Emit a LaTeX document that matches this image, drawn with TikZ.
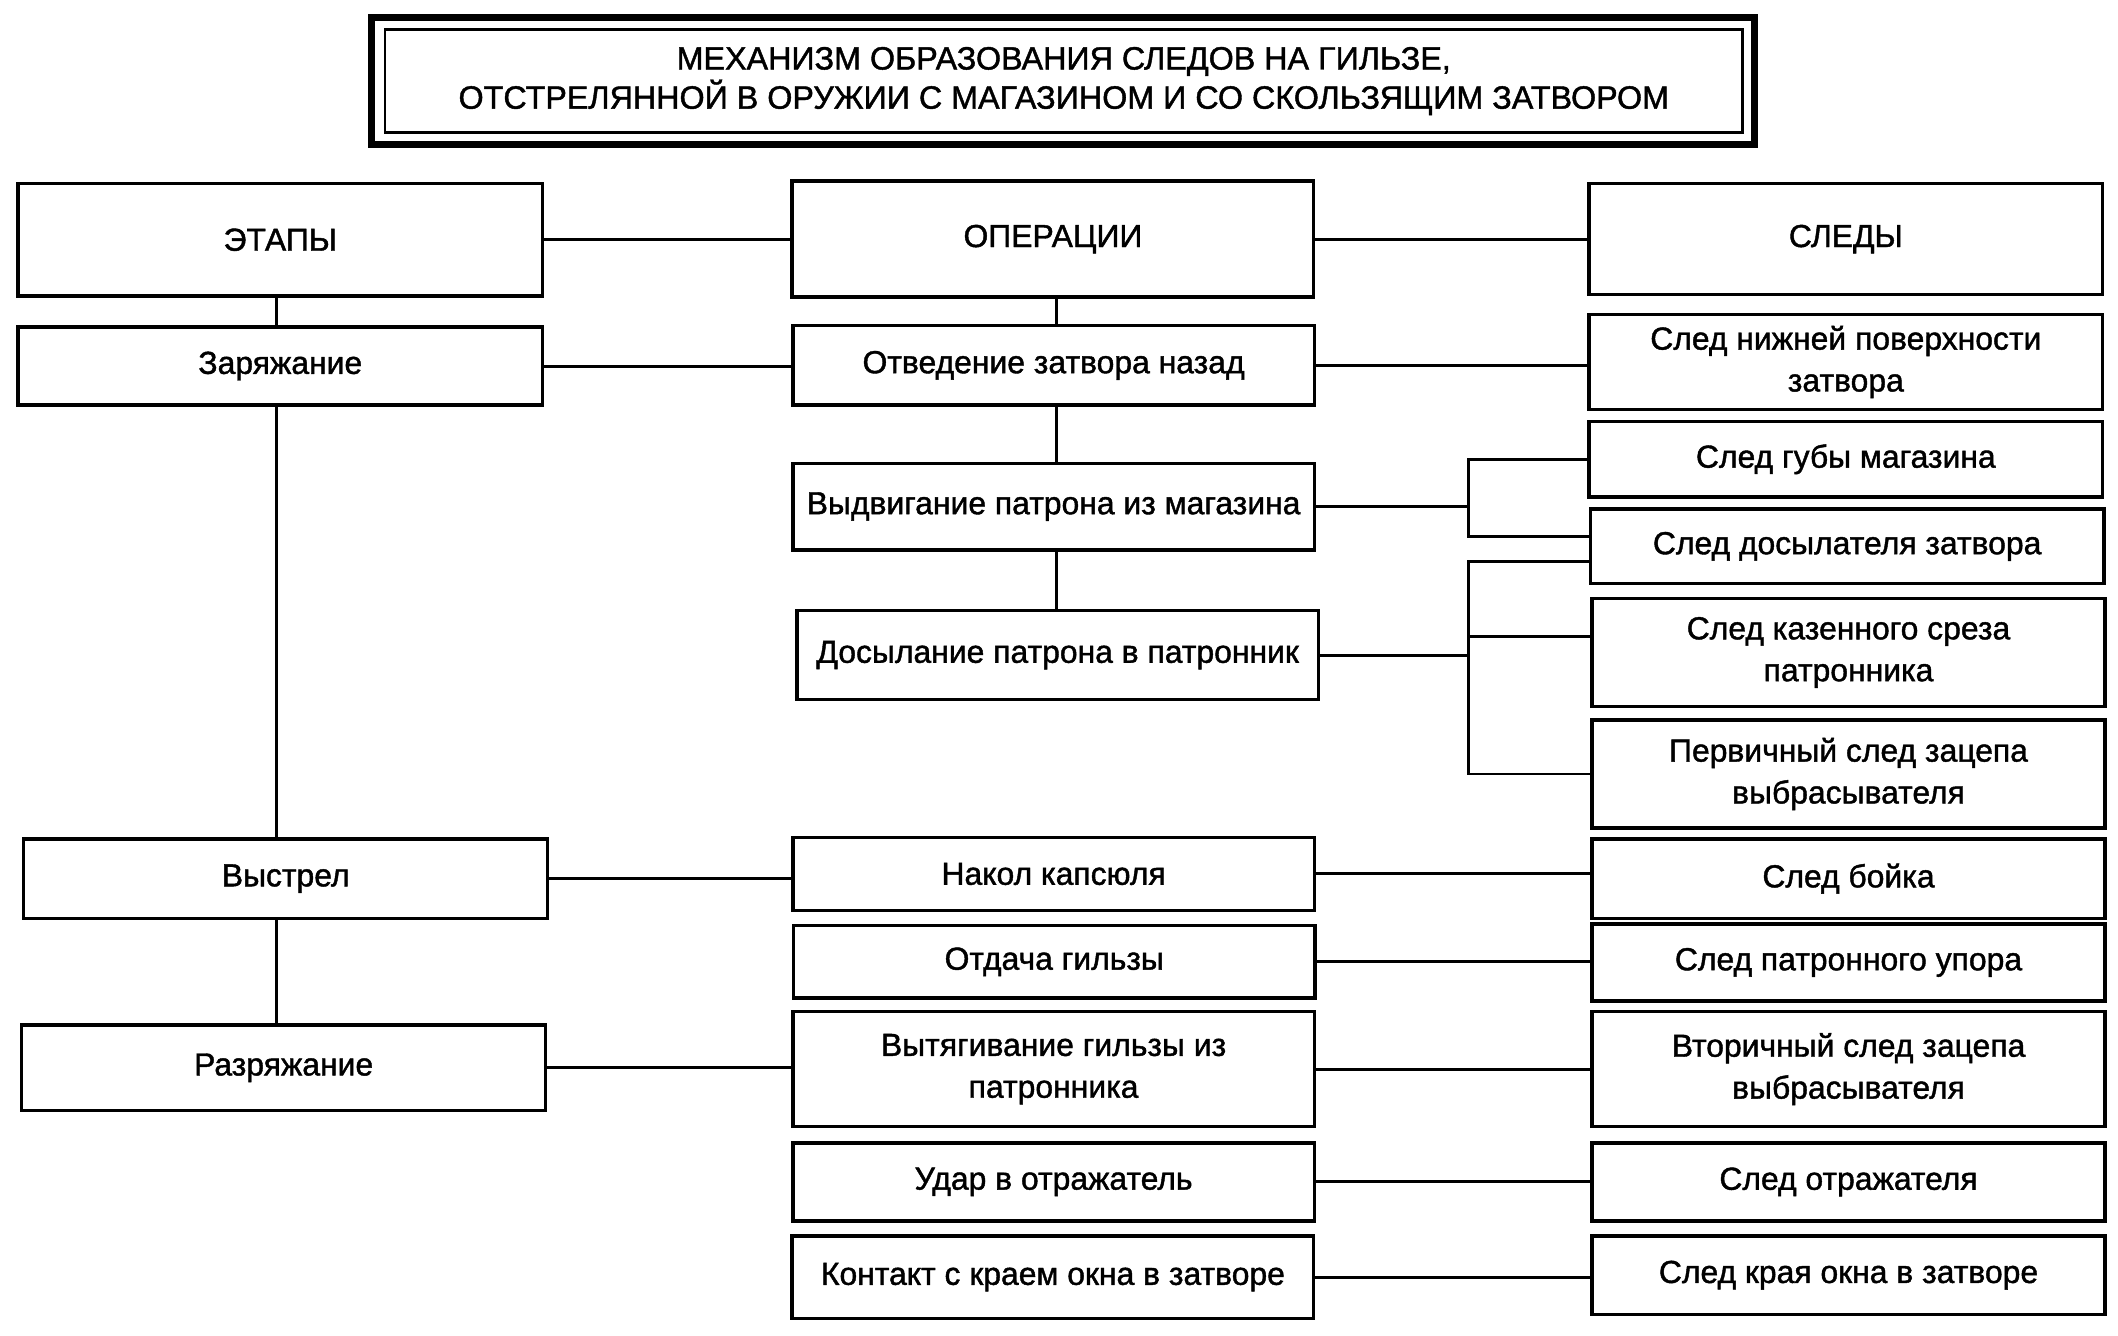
\documentclass[tikz,border=0pt]{standalone}
\usepackage{fontspec}
\setmainfont{Liberation Sans}[FakeBold=1.3]
\usetikzlibrary{calc}
\begin{document}
\begin{tikzpicture}[x=0.5pt,y=0.5pt,yscale=-1,
    box/.style={draw,line width=1.3pt,inner sep=0pt,align=center,font=\fontsize{11.8}{15.5}\selectfont},
    stagebox/.style={box,minimum width=194pt},
    opbox/.style={box,minimum width=193pt},
    tracebox/.style={box,minimum width=190pt},
    link/.style={line width=1.1pt}]
  \useasboundingbox (0,0) rectangle (1568,989);
  \node[draw,line width=0.9pt,minimum width=502.5pt,minimum height=38pt,align=center,
        font=\fontsize{11.95}{14.5}\selectfont] (title) at (787.5,60)
        {МЕХАНИЗМ ОБРАЗОВАНИЯ СЛЕДОВ НА ГИЛЬЗЕ,\\ОТСТРЕЛЯННОЙ В ОРУЖИИ С МАГАЗИНОМ И СО СКОЛЬЗЯЩИМ ЗАТВОРОМ};
  \draw[line width=2.8pt] ($(title.north west)+(-9,-8)$) rectangle ($(title.south east)+(8,8)$);

  \node[stagebox,minimum height=41.5pt] (etapy) at (207.5,177.5) {ЭТАПЫ};
  \node[stagebox,minimum height=29pt] (zar) at (207.5,271) {Заряжание};
  \node[stagebox,minimum height=29.5pt] (vystr) at (211.5,650.5) {Выстрел};
  \node[stagebox,minimum height=31.5pt] (razr) at (210,790.5) {Разряжание};

  \node[opbox,minimum height=43pt] (oper) at (779.5,177) {ОПЕРАЦИИ};
  \node[opbox,minimum height=29.5pt] (otv) at (780,270.5) {Отведение затвора назад};
  \node[opbox,minimum height=32pt] (vydv) at (780,375) {Выдвигание патрона из магазина};
  \node[opbox,minimum height=33pt] (dosyl) at (783,485) {Досылание патрона в патронник};
  \node[opbox,minimum height=27pt] (nakol) at (780,647) {Накол капсюля};
  \node[opbox,minimum height=27pt] (otd) at (780.5,712) {Отдача гильзы};
  \node[opbox,minimum height=42.5pt] (vyt) at (780,791.5) {Вытягивание гильзы из\\патронника};
  \node[opbox,minimum height=29pt] (udar) at (780,875) {Удар в отражатель};
  \node[opbox,minimum height=30.5pt] (kont) at (779.5,945.5) {Контакт с краем окна в затворе};

  \node[tracebox,minimum height=41pt] (sledy) at (1366.5,177) {СЛЕДЫ};
  \node[tracebox,minimum height=35pt] (nizh) at (1366.5,268) {След нижней поверхности\\затвора};
  \node[tracebox,minimum height=28pt] (gub) at (1366.5,340) {След губы магазина};
  \node[tracebox,minimum height=27.5pt] (dos) at (1367.5,404.5) {След досылателя затвора};
  \node[tracebox,minimum height=40pt] (kaz) at (1368.5,483) {След казенного среза\\патронника};
  \node[tracebox,minimum height=40pt] (perv) at (1368.5,573) {Первичный след зацепа\\выбрасывателя};
  \node[tracebox,minimum height=29.5pt] (boyk) at (1368.5,650.5) {След бойка};
  \node[tracebox,minimum height=28.5pt] (upor) at (1368.5,712.5) {След патронного упора};
  \node[tracebox,minimum height=42.5pt] (vtor) at (1368.5,791.5) {Вторичный след зацепа\\выбрасывателя};
  \node[tracebox,minimum height=29pt] (otr) at (1368.5,875) {След отражателя};
  \node[tracebox,minimum height=29pt] (okno) at (1368.5,944) {След края окна в затворе};

  \draw[link] (oper.west -| etapy.east) -- (oper.west);
  \draw[link] (oper.east) -- (oper.east -| sledy.west);
  \draw[link] (zar.east) -- (zar.east -| otv.west);
  \draw[link] (otv.east) -- (otv.east -| nizh.west);
  \draw[link] (vystr.east) -- (vystr.east -| nakol.west);
  \draw[link] (nakol.east) -- (nakol.east -| boyk.west);
  \draw[link] (otd.east) -- (otd.east -| upor.west);
  \draw[link] (razr.east) -- (razr.east -| vyt.west);
  \draw[link] (vyt.east) -- (vyt.east -| vtor.west);
  \draw[link] (udar.east) -- (udar.east -| otr.west);
  \draw[link] (kont.east) -- (kont.east -| okno.west);

  \coordinate (c1) at (205,0);
  \coordinate (c2) at (782,0);
  \draw[link] (etapy.south -| c1) -- (zar.north -| c1);
  \draw[link] (zar.south -| c1) -- (vystr.north -| c1);
  \draw[link] (vystr.south -| c1) -- (razr.north -| c1);
  \draw[link] (oper.south -| c2) -- (otv.north -| c2);
  \draw[link] (otv.south -| c2) -- (vydv.north -| c2);
  \draw[link] (vydv.south -| c2) -- (dosyl.north -| c2);

  \coordinate (br) at (1087,0);
  \coordinate (dosA) at ($(dos.west)+(0,-7.5)$);
  \coordinate (dosB) at ($(dos.west)+(0,11.5)$);
  \coordinate (kazA) at ($(kaz.west)+(0,-12)$);
  \draw[link] (vydv.east) -- (vydv.east -| br);
  \draw[link] (gub.west) -- (gub.west -| br) -- (dosA -| br) -- (dosA);
  \draw[link] (dosyl.east) -- (dosyl.east -| br);
  \draw[link] (dosB) -- (dosB -| br) -- (perv.west -| br) -- (perv.west);
  \draw[link] (kazA -| br) -- (kazA);
\end{tikzpicture}
\end{document}
